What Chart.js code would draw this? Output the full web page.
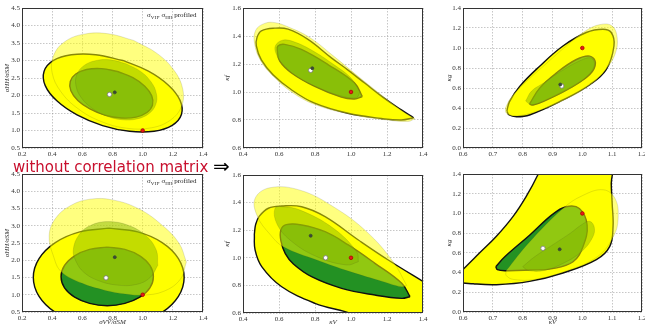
<!DOCTYPE html>
<html>
<head>
<meta charset="utf-8">
<script src="https://cdn.jsdelivr.net/npm/chart.js@4/dist/chart.umd.min.js"></script>
<style>
  body { margin: 0; width: 645px; height: 326px; overflow: hidden; background: #fff; position: relative; }
  canvas { position: absolute; }
  .note { position: absolute; font: 7px "Liberation Serif", serif; color: #222; white-space: nowrap; }
  .note sub { font-size: 5px; }
  #banner { position: absolute; left: 13px; top: 154px; font: 15px "DejaVu Sans", sans-serif; color: #c8102e; white-space: nowrap; }
  #banner span { color: #000; font-size: 20px; vertical-align: -1px; }
</style>
</head>
<body>
<canvas id="panel1" width="215" height="158" style="left:0;top:0"></canvas>
<canvas id="panel2" width="215" height="158" style="left:215px;top:0"></canvas>
<canvas id="panel3" width="230" height="158" style="left:430px;top:0"></canvas>
<canvas id="panel4" width="215" height="162" style="left:0;top:164px"></canvas>
<canvas id="panel5" width="215" height="162" style="left:215px;top:164px"></canvas>
<canvas id="panel6" width="230" height="162" style="left:430px;top:164px"></canvas>
<div class="note" style="left:147px;top:11px">σ<sub>VH</sub>, σ<sub>HH</sub> profiled</div>
<div class="note" style="left:147px;top:177px">σ<sub>VH</sub>, σ<sub>HH</sub> profiled</div>
<div id="banner">without correlation matrix <span>⇒</span></div>
<script>
// axis ranges: [min, max, step]
const p1XRange = [0.2, 1.4, 0.2], p1YRange = [0.5, 4.5, 0.5];
const p2XRange = [0.4, 1.4, 0.2], p2YRange = [0.6, 1.6, 0.2];
const p3XRange = [0.6, 1.2, 0.1], p3YRange = [0.0, 1.4, 0.2];

// contours, [x, y] points going round each shape
// top-left: sigma_HH/sigma_SM vs sigma_VV/sigma_SM
const p1Outer = [[0.869,3.001],[1.038,2.696],[1.171,2.294],[1.248,1.86],[1.257,1.458],[1.196,1.149],[1.076,0.98],[0.913,0.977],[0.734,1.141],[0.565,1.447],[0.431,1.849],[0.354,2.283],[0.346,2.686],[0.406,2.994],[0.527,3.163],[0.689,3.166]];
const p1Inner = [[0.834,2.686],[0.935,2.51],[1.014,2.265],[1.06,1.99],[1.065,1.726],[1.028,1.513],[0.956,1.384],[0.858,1.358],[0.75,1.439],[0.65,1.616],[0.57,1.86],[0.524,2.136],[0.52,2.4],[0.556,2.613],[0.628,2.742],[0.726,2.768]];
const p1Pale = [[0.941,3.573],[1.095,3.203],[1.209,2.714],[1.266,2.179],[1.257,1.68],[1.183,1.293],[1.057,1.076],[0.896,1.063],[0.725,1.256],[0.571,1.625],[0.457,2.114],[0.4,2.649],[0.41,3.149],[0.483,3.536],[0.61,3.753],[0.771,3.765]];
const p1Green = [[0.888,2.91],[0.986,2.689],[1.056,2.387],[1.091,2.052],[1.086,1.733],[1.041,1.48],[0.962,1.33],[0.864,1.308],[0.758,1.415],[0.664,1.637],[0.593,1.938],[0.558,2.274],[0.563,2.593],[0.608,2.846],[0.687,2.995],[0.786,3.018]];
const p1Points = { fit: [0.78, 2.03], best: [0.815, 2.09], sm: [1.0, 1.0] };

// top-middle: kappa_f vs kappa_V
const p2Outer = [[1.348,0.816],[1.28,0.872],[1.18,0.96],[1.076,1.064],[0.98,1.16],[0.891,1.244],[0.761,1.376],[0.65,1.449],[0.576,1.456],[0.502,1.437],[0.478,1.39],[0.474,1.33],[0.502,1.23],[0.567,1.124],[0.669,1.016],[0.798,0.92],[0.983,0.848],[1.169,0.811],[1.28,0.8]];
const p2Inner = [[1.063,0.968],[1.02,1.064],[0.872,1.196],[0.724,1.304],[0.631,1.34],[0.594,1.328],[0.591,1.292],[0.604,1.22],[0.669,1.136],[0.798,1.04],[0.946,0.963],[1.02,0.95]];
const p2Pale = [[1.355,0.81],[1.28,0.87],[1.08,1.07],[0.9,1.26],[0.77,1.39],[0.66,1.46],[0.58,1.495],[0.52,1.49],[0.47,1.44],[0.465,1.34],[0.5,1.22],[0.57,1.11],[0.67,1.0],[0.8,0.91],[1.0,0.84],[1.2,0.8],[1.32,0.79]];
const p2Green = [[1.05,1.0],[1.0,1.1],[0.9,1.2],[0.78,1.3],[0.68,1.36],[0.62,1.37],[0.58,1.33],[0.585,1.27],[0.62,1.2],[0.7,1.11],[0.82,1.03],[0.95,0.97],[1.03,0.96]];
const p2Points = { fit: [0.776, 1.155], best: [0.785, 1.17], sm: [1.0, 1.0] };

// top-right: kappa_g vs kappa_V
const p3Outer = [[0.747,0.37],[0.756,0.464],[0.79,0.616],[0.857,0.818],[0.935,1.02],[1.013,1.155],[1.069,1.188],[1.097,1.155],[1.106,1.02],[1.08,0.784],[1.025,0.633],[0.935,0.481],[0.823,0.33],[0.779,0.313],[0.755,0.33]];
const p3Inner = [[0.823,0.44],[0.857,0.599],[0.913,0.751],[0.98,0.885],[1.025,0.919],[1.044,0.852],[1.025,0.734],[0.958,0.599],[0.868,0.464],[0.835,0.43]];
const p3Pale = [[0.742,0.4],[0.76,0.5],[0.8,0.63],[0.87,0.82],[0.95,1.03],[1.01,1.17],[1.06,1.235],[1.1,1.22],[1.117,1.1],[1.11,0.94],[1.08,0.79],[1.03,0.64],[0.94,0.48],[0.84,0.36],[0.77,0.32],[0.745,0.35]];
const p3Green = [[0.81,0.47],[0.83,0.57],[0.87,0.65],[0.93,0.77],[0.99,0.87],[1.03,0.9],[1.04,0.82],[1.01,0.7],[0.95,0.58],[0.88,0.48],[0.83,0.43]];
const p3Points = { fit: [0.931, 0.62], best: [0.926, 0.635], sm: [1.0, 1.0] };

// bottom row, without correlation matrix
const p4Outer = [[0.775,2.93],[0.583,2.821],[0.421,2.511],[0.313,2.047],[0.275,1.5],[0.313,0.953],[0.421,0.489],[0.583,0.179],[0.775,0.07],[0.967,0.179],[1.129,0.489],[1.237,0.953],[1.275,1.5],[1.237,2.047],[1.129,2.511],[0.967,2.821]];
const p4Inner = [[0.765,2.38],[0.648,2.315],[0.549,2.128],[0.482,1.849],[0.459,1.52],[0.482,1.2],[0.549,0.93],[0.648,0.75],[0.765,0.68],[0.882,0.75],[0.981,0.93],[1.048,1.2],[1.071,1.52],[1.048,1.849],[0.981,2.128],[0.882,2.315]];
const p4Pale = [[1.29,1.95],[1.24,2.5],[1.12,3.05],[0.97,3.5],[0.8,3.75],[0.65,3.77],[0.52,3.58],[0.42,3.2],[0.38,2.7],[0.41,2.1],[0.46,1.67],[0.6,1.33],[0.74,1.14],[0.87,1.03],[1.0,0.99],[1.14,1.1],[1.25,1.45]];
const p4Green = [[1.1,1.85],[1.09,2.3],[1.02,2.72],[0.9,3.02],[0.77,3.12],[0.66,3.02],[0.58,2.75],[0.54,2.3],[0.56,1.95],[0.61,1.65],[0.7,1.42],[0.83,1.28],[0.96,1.3],[1.05,1.5]];
const p4Points = { fit: [0.757, 1.49], best: [0.815, 2.09], sm: [1.0, 1.0] };

const p5Outer = [[0.463,1.17],[0.47,1.24],[0.49,1.3],[0.541,1.359],[0.615,1.375],[0.726,1.37],[0.856,1.298],[1.041,1.129],[1.207,0.984],[1.402,0.827],[1.5,0.75],[1.52,0.55],[1.3,0.5],[1.1,0.56],[0.967,0.61],[0.8,0.67],[0.615,0.79],[0.504,0.936],[0.467,1.057]];
const p5Inner = [[1.328,0.718],[1.282,0.815],[1.133,0.96],[0.985,1.093],[0.856,1.189],[0.726,1.238],[0.64,1.24],[0.61,1.2],[0.611,1.12],[0.635,1.03],[0.68,0.955],[0.781,0.863],[0.948,0.779],[1.133,0.73],[1.282,0.706]];
const p5Pale = [[1.309,0.8],[1.235,0.97],[1.087,1.189],[0.902,1.37],[0.717,1.49],[0.55,1.508],[0.467,1.43],[0.48,1.3],[0.55,1.17],[0.624,1.08],[0.81,0.984],[0.994,0.9],[1.179,0.827],[1.28,0.79]];
const p5Green = [[1.041,0.972],[1.032,1.044],[0.902,1.214],[0.717,1.346],[0.62,1.37],[0.578,1.359],[0.587,1.25],[0.661,1.129],[0.81,1.008],[0.976,0.948]];
const p5Points = { fit: [0.859, 1.0], best: [0.776, 1.16], sm: [1.0, 1.0] };

const p6Outer = [[0.58,0.36],[0.6,0.43],[0.656,0.6],[0.712,0.768],[0.768,0.97],[0.812,1.173],[0.851,1.393],[0.88,1.6],[1.097,1.6],[1.097,1.3],[1.1,1.1],[1.103,0.87],[1.092,0.666],[1.047,0.531],[0.935,0.396],[0.823,0.311],[0.712,0.277],[0.634,0.287],[0.58,0.31]];
const p6Inner = [[0.71,0.46],[0.74,0.56],[0.824,0.781],[0.9,0.99],[0.946,1.068],[0.99,1.05],[1.016,0.883],[1.002,0.662],[0.969,0.51],[0.9,0.44],[0.824,0.426],[0.745,0.419],[0.715,0.43]];
const p6Pale = [[0.745,0.42],[0.82,0.7],[0.935,1.05],[1.0,1.18],[1.07,1.24],[1.11,1.15],[1.12,0.95],[1.105,0.77],[1.05,0.56],[0.94,0.41],[0.84,0.33],[0.77,0.33],[0.745,0.37]];
const p6Green = [[0.8,0.46],[0.84,0.56],[0.9,0.68],[0.96,0.8],[1.0,0.89],[1.025,0.92],[1.04,0.86],[1.035,0.76],[1.0,0.62],[0.94,0.5],[0.87,0.42],[0.82,0.42]];
const p6Points = { fit: [0.868, 0.646], best: [0.924, 0.636], sm: [1.0, 1.0] };

const yellow = "#ffff00";
const darkGreen = "rgb(35, 145, 35)";
const paleYellow = "rgba(255, 255, 0, 0.5)";
const greenTint = "rgba(129, 182, 0, 0.48)";
const faintLine = "rgba(70, 70, 30, 0.25)";
const tickFont = { family: "Liberation Serif", size: 7 };

// solid frame round the plot area
const frame = {
  id: "frame",
  afterDraw(chart) {
    const a = chart.chartArea;
    const ctx = chart.ctx;
    ctx.save();
    ctx.strokeStyle = "#333";
    ctx.lineWidth = 1;
    ctx.strokeRect(a.left + 0.5, a.top + 0.5, a.right - a.left - 1, a.bottom - a.top - 1);
    ctx.restore();
  },
};

function shape(pts, fillColor, lineColor, lineWidth) {
  return {
    data: pts.concat([pts[0]]).map(p => ({ x: p[0], y: p[1] })),
    showLine: true,
    fill: "shape",
    tension: 0.4,
    backgroundColor: fillColor,
    borderColor: lineColor,
    borderWidth: lineWidth,
    pointRadius: 0,
  };
}

function dot(p, fillColor, lineColor, radius) {
  return {
    data: [{ x: p[0], y: p[1] }],
    pointRadius: radius,
    pointBackgroundColor: fillColor,
    pointBorderColor: lineColor,
    pointBorderWidth: 0.8,
  };
}

function axis(range, extra) {
  return Object.assign({
    type: "linear",
    min: range[0],
    max: range[1],
    z: 1,
    border: { display: false, dash: [1.5, 1.5] },
    grid: { color: "rgba(140, 140, 140, 0.7)", lineWidth: 0.7, drawTicks: false },
    ticks: { stepSize: range[2], font: tickFont, color: "#333", padding: 2, autoSkip: false, maxRotation: 0, callback: v => v.toFixed(1) },
  }, extra);
}

function panel(id, c) {
  new Chart(document.getElementById(id).getContext("2d"), {
    type: "scatter",
    data: {
      datasets: [
        dot(c.points.sm, "#e41a1c", "#b00000", 1.8),
        dot(c.points.best, "#3b4a33", "#3b4a33", 1.5),
        dot(c.points.fit, "#ffffff", "#777777", 2.2),
        shape(c.green, greenTint, faintLine, 0.6),
        shape(c.pale, paleYellow, faintLine, 0.6),
        shape(c.inner, darkGreen, "#111", 1.4),
        shape(c.outer, yellow, "#111", 1.4),
      ],
    },
    options: {
      responsive: false,
      animation: false,
      events: [],
      layout: { padding: { left: 0, top: c.top, right: c.right, bottom: 0 } },
      elements: { line: { capBezierPoints: false } },
      plugins: { legend: { display: false }, tooltip: { enabled: false } },
      scales: {
        x: axis(c.xRange, {
          title: { display: !!c.xTitle, text: c.xTitle, font: { family: "Liberation Serif", size: 7, style: "italic" }, color: "#333", padding: 0 },
          afterFit: s => { s.height = c.xHeight; },
        }),
        y: axis(c.yRange, {
          title: { display: true, text: c.yTitle, font: { family: "Liberation Serif", size: 7, style: "italic" }, color: "#333", padding: { top: c.yTitlePad, bottom: 0 } },
          afterFit: s => { s.width = c.left; },
        }),
      },
    },
    plugins: [frame],
  });
}

panel("panel1", { outer: p1Outer, inner: p1Inner, pale: p1Pale, green: p1Green, points: p1Points, xRange: p1XRange, yRange: p1YRange, yTitle: "σHH/σSM", left: 22, right: 12, top: 8, xHeight: 10, yTitlePad: 3 });
panel("panel2", { outer: p2Outer, inner: p2Inner, pale: p2Pale, green: p2Green, points: p2Points, xRange: p2XRange, yRange: p2YRange, yTitle: "κf", left: 28, right: 7, top: 8, xHeight: 10, yTitlePad: 8 });
panel("panel3", { outer: p3Outer, inner: p3Inner, pale: p3Pale, green: p3Green, points: p3Points, xRange: p3XRange, yRange: p3YRange, yTitle: "κg", left: 33, right: 18, top: 8, xHeight: 10, yTitlePad: 15 });
panel("panel4", { outer: p4Outer, inner: p4Inner, pale: p4Pale, green: p4Green, points: p4Points, xRange: p1XRange, yRange: p1YRange, yTitle: "σHH/σSM", xTitle: "σVV/σSM", left: 22, right: 12, top: 10, xHeight: 14, yTitlePad: 3 });
panel("panel5", { outer: p5Outer, inner: p5Inner, pale: p5Pale, green: p5Green, points: p5Points, xRange: p2XRange, yRange: p2YRange, yTitle: "κf", xTitle: "κV", left: 28, right: 7, top: 11, xHeight: 13, yTitlePad: 8 });
panel("panel6", { outer: p6Outer, inner: p6Inner, pale: p6Pale, green: p6Green, points: p6Points, xRange: p3XRange, yRange: p3YRange, yTitle: "κg", xTitle: "κV", left: 33, right: 18, top: 10, xHeight: 14, yTitlePad: 15 });
</script>
</body>
</html>
